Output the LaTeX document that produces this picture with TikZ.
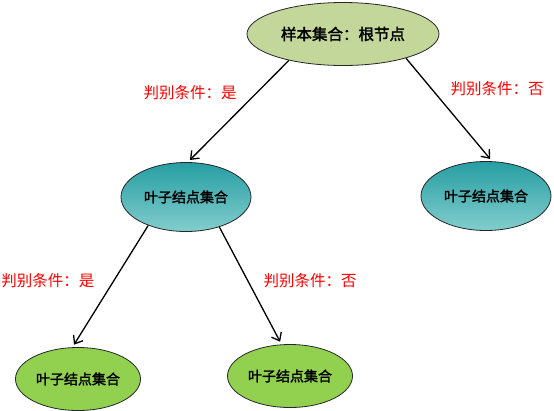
\documentclass[tikz,border=0pt]{standalone}
\usepackage{fontspec}
\setmainfont{Liberation Serif}
\newfontfamily\cjk{Noto Sans CJK SC}
\newfontfamily\cjkb{Noto Sans CJK SC}[FakeBold=2]
\usetikzlibrary{shapes.geometric,arrows.meta}
\definecolor{rootgreen}{RGB}{196,215,155}
\definecolor{leafgreen}{RGB}{146,208,80}
\definecolor{tealtop}{RGB}{38,158,163}
\definecolor{tealbot}{RGB}{130,205,205}
\definecolor{labred}{RGB}{255,0,0}
\begin{document}
\begin{tikzpicture}[x=1pt,y=-1pt,
  ell/.style={ellipse,draw=black!85,line width=0.8pt,inner sep=0pt},
  rootnode/.style={ell,fill=rootgreen,minimum width=192pt,minimum height=63pt,font=\cjkb\fontsize{15.5}{17}\selectfont},
  tealnode/.style={ell,top color=tealtop,bottom color=tealbot,minimum width=130pt,minimum height=69pt,font=\cjkb\fontsize{14}{16}\selectfont},
  leafnode/.style={ell,fill=leafgreen,minimum width=125pt,minimum height=63pt,font=\cjkb\fontsize{14}{16}\selectfont},
  cond/.style={text=labred,font=\cjk\fontsize{15.5}{17}\selectfont,inner sep=0pt},
  conn/.style={line width=1.3pt,shorten >=3pt,-{Straight Barb[length=7pt,width=11pt,line width=1.3pt]}}]
\useasboundingbox (0,0) rectangle (554,410);
\node[rootnode] (root) at (343,34) {样本集合：根节点};
\node[tealnode] (mid) at (186,197) {叶子结点集合};
\node[tealnode] (right) at (486,196) {叶子结点集合};
\node[leafnode] (bl) at (78,379) {叶子结点集合};
\node[leafnode] (bm) at (290,376) {叶子结点集合};
\node[cond] (c1) at (190,93) {判别条件：是};
\node[cond] (c2) at (497,89) {判别条件：否};
\node[cond] (c3) at (48,281) {判别条件：是};
\node[cond] (c4) at (310,281) {判别条件：否};
\draw[conn] (root.206) -- (mid.87);
\draw[conn] (root.339) -- (right.80);
\draw[conn] (mid.217) -- (bl.100);
\draw[conn] (mid.318) -- (bm.105);
\end{tikzpicture}
\end{document}
